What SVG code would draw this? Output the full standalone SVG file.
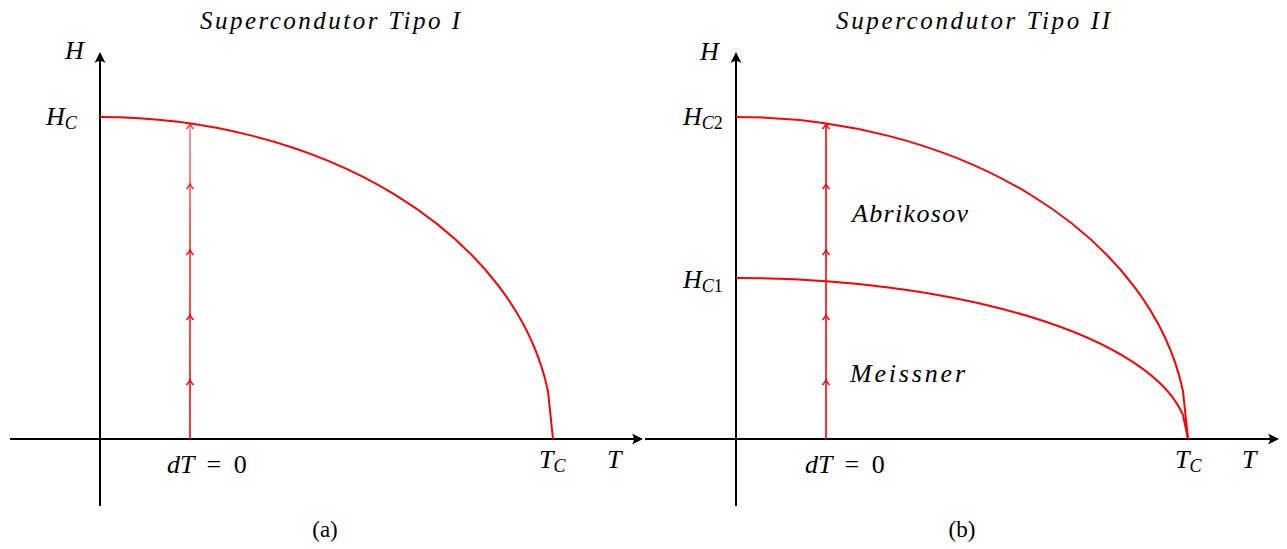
<svg xmlns="http://www.w3.org/2000/svg" width="1287" height="549" viewBox="0 0 1287 549">
<style>
  .ax{stroke:#000;stroke-width:2;fill:none}
  .cv{stroke:#ff0000;stroke-width:2;fill:none}
  .vl{stroke-width:1.6;fill:none}
  .t{font-family:"Liberation Serif","DejaVu Serif",serif;font-style:italic;font-size:26px;fill:#000}
  .ti{font-family:"Liberation Serif","DejaVu Serif",serif;font-style:italic;font-size:25px;fill:#000}
  .sub{font-size:18px}
  .up{font-style:normal}
  .cap{font-family:"Liberation Serif","DejaVu Serif",serif;font-size:23px;fill:#000}
</style>
<defs>
  <path id="ah" d="M0,0 L-11,-5.5 Q-7,0 -11,5.5 Z" fill="#000"/>
  <path id="mh" d="M-3.5,5 Q-1,2 0,0 Q1,2 3.5,5" stroke="#ff0000" stroke-width="1.4" fill="none"/>
  <linearGradient id="fade" gradientUnits="userSpaceOnUse" x1="0" y1="439" x2="0" y2="124">
    <stop offset="0" stop-color="#ff0000" stop-opacity="1"/>
    <stop offset="0.6" stop-color="#ff0000" stop-opacity="0.85"/>
    <stop offset="1" stop-color="#ff0000" stop-opacity="0.5"/>
  </linearGradient>
</defs>

<g id="connectors">
  <line class="ax" x1="10" y1="439" x2="640" y2="439"/>
  <use href="#ah" transform="translate(643,439)"/>
  <line class="ax" x1="100" y1="506" x2="100" y2="55"/>
  <use href="#ah" transform="translate(100,52) rotate(-90)"/>
  <line class="ax" x1="645" y1="439" x2="1276" y2="439"/>
  <use href="#ah" transform="translate(1279,439)"/>
  <line class="ax" x1="736" y1="506" x2="736" y2="55"/>
  <use href="#ah" transform="translate(736,52) rotate(-90)"/>
</g>

<g id="panel-a">
  <text class="ti" x="200" y="29" textLength="260" lengthAdjust="spacing">Supercondutor Tipo I</text>
  <path id="curve-hc" class="cv" d="M100,117 A453,322 0 0 1 548,391.3 L553,439"/>
  <g id="path-a">
    <line class="vl" x1="190" y1="439" x2="190" y2="124" stroke="url(#fade)"/>
    <use href="#mh" transform="translate(190,380)"/>
    <use href="#mh" transform="translate(190,315)"/>
    <use href="#mh" transform="translate(190,250)"/>
    <use href="#mh" transform="translate(190,184)" opacity="0.85"/>
    <use href="#mh" transform="translate(190,124)" opacity="0.8"/>
  </g>
  <text class="t" x="65" y="59">H</text>
  <text class="t" x="46" y="125">H<tspan class="sub" dy="4">C</tspan></text>
  <text class="t" x="167" y="473">dT <tspan class="up" dx="6">=</tspan><tspan class="up" dx="6"> 0</tspan></text>
  <text class="t" x="539" y="468">T<tspan class="sub" dy="4">C</tspan></text>
  <text class="t" x="607" y="468">T</text>
  <text class="cap" x="325" y="537" text-anchor="middle">(a)</text>
</g>

<g id="panel-b">
  <text class="ti" x="836" y="29" textLength="274" lengthAdjust="spacing">Supercondutor Tipo II</text>
  <path id="curve-hc2" class="cv" d="M736,117 A452,322 0 0 1 1183,391.2 L1188,439"/>
  <path id="curve-hc1" class="cv" d="M736,278 A452,161 0 0 1 1183,415.1 L1188,439"/>
  <g id="path-b">
    <line class="vl" x1="826" y1="439" x2="826" y2="124" stroke="#ff0000"/>
    <use href="#mh" transform="translate(826,380)"/>
    <use href="#mh" transform="translate(826,315)"/>
    <use href="#mh" transform="translate(826,250)"/>
    <use href="#mh" transform="translate(826,184)"/>
    <use href="#mh" transform="translate(826,124)"/>
  </g>
  <text class="t" x="700" y="60">H</text>
  <text class="t" x="683" y="125">H<tspan class="sub" dy="4">C<tspan class="up">2</tspan></tspan></text>
  <text class="t" x="683" y="288">H<tspan class="sub" dy="4">C<tspan class="up">1</tspan></tspan></text>
  <text class="t" x="852" y="222" textLength="116" lengthAdjust="spacing">Abrikosov</text>
  <text class="t" x="850" y="382" textLength="115" lengthAdjust="spacing">Meissner</text>
  <text class="t" x="805" y="473">dT <tspan class="up" dx="6">=</tspan><tspan class="up" dx="6"> 0</tspan></text>
  <text class="t" x="1175" y="468">T<tspan class="sub" dy="4">C</tspan></text>
  <text class="t" x="1242" y="468">T</text>
  <text class="cap" x="962" y="537" text-anchor="middle">(b)</text>
</g>
</svg>
